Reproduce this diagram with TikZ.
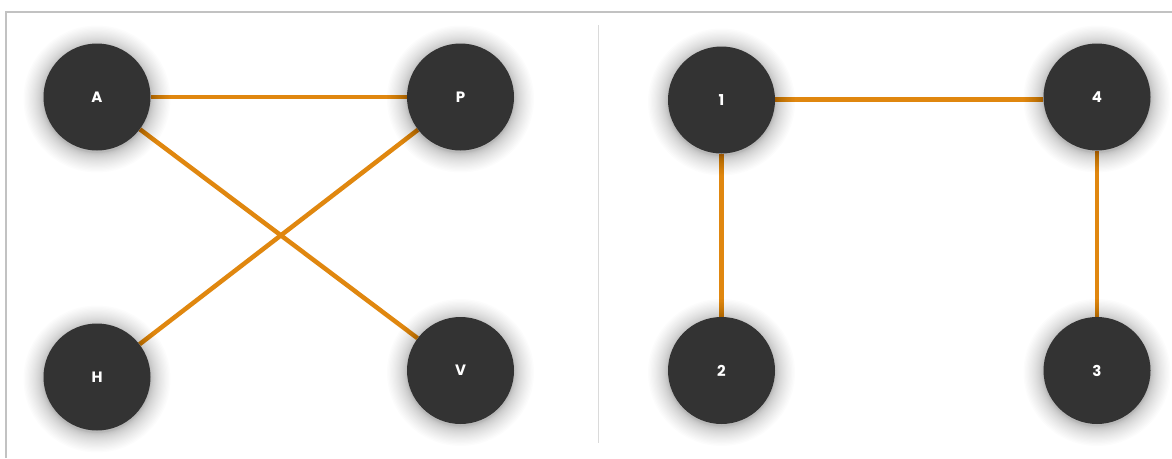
\documentclass[tikz,border=0pt]{standalone}
\usepackage{fontspec}
\setmainfont{Poppins}
\usetikzlibrary{backgrounds}
\definecolor{nodefill}{HTML}{333333}
\definecolor{edgeorange}{HTML}{E0870F}
\definecolor{framegray}{HTML}{C2C2C2}
\definecolor{dividergray}{HTML}{DADADA}
\tikzset{
  vertex/.style={circle, fill=nodefill, minimum size=107pt, inner sep=0pt,
    text=white, font=\fontsize{15}{15}\selectfont\bfseries},
  glowstep/.style={fill=black, fill opacity=0.013},
  edge/.style={draw=edgeorange, line width=4.5pt}
}
\begin{document}
\begin{tikzpicture}[x=1pt, y=-1pt]
  \useasboundingbox (0,0) rectangle (1172,458);
  % vertices
  \node[vertex] (A) at (97,97) {A};
  \node[vertex] (P) at (460.5,97) {P};
  \node[vertex] (H) at (97,377) {H};
  \node[vertex] (V) at (460.5,370.5) {V};
  \node[vertex] (n1) at (721.5,100) {1};
  \node[vertex] (n4) at (1097,97) {4};
  \node[vertex] (n2) at (721.5,370.5) {2};
  \node[vertex] (n3) at (1097,370.5) {3};
  \begin{scope}[on background layer]
    \fill[white] (0,0) rectangle (1172,458);
    % outer frame and panel divider
    \draw[framegray, line width=2pt] (6,458) -- (6,12) -- (1172,12);
    \draw[dividergray, line width=1.5pt] (598.5,25) -- (598.5,443);
    % edges
    \draw[edge] (A) -- (P);
    \draw[edge] (A) -- (V);
    \draw[edge] (H) -- (P);
    \draw[edge] (n1.east |- 0,99.5) -- (n4.west |- 0,99.5);
    \draw[edge] (n1) -- (n2);
    \draw[edge] (n4) -- (n3);
    % soft glow around each vertex: stacked faint discs, denser near the rim
    \foreach \v in {A,P,H,V,n1,n2,n3,n4}
      \foreach \k in {1,...,24} {
        \pgfmathsetmacro{\rr}{53.5+20*(\k/24)^1.7}
        \fill[glowstep] ([yshift=-2pt]\v.center) circle (\rr pt);
      }
  \end{scope}
\end{tikzpicture}
\end{document}
